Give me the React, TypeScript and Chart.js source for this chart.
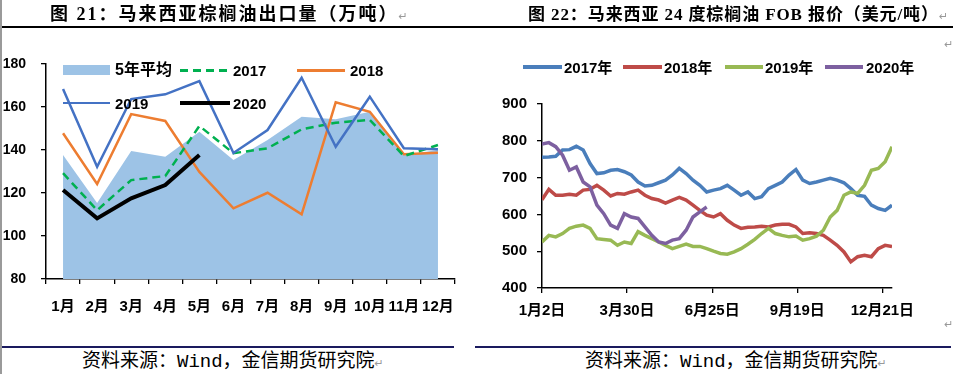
import React, { useEffect, useRef } from "react";
import { Chart, registerables } from "chart.js";
Chart.register(...registerables);

// ---------- Chart 21: Malaysia palm oil exports (10k tonnes) ----------
const months = ["1月", "2月", "3月", "4月", "5月", "6月", "7月", "8月", "9月", "10月", "11月", "12月"];
const avg5 = [137.7, 115.3, 139.5, 136.9, 148.5, 135.3, 144.7, 155.5, 154.3, 157.8, 137.7, 140];
const exp2017 = [129.2, 112, 126, 127.9, 151.2, 138.5, 140.8, 149.6, 152.7, 154, 137.2, 142.3];
const exp2018 = [147.8, 124.2, 156.7, 153.5, 129.8, 112.9, 120.1, 110.1, 162.2, 157.8, 138, 138.7];
const exp2019 = [168.4, 132.2, 163.7, 165.9, 172, 138.6, 149.3, 173.6, 141.5, 164.8, 140.8, 140.3];
const exp2020 = [121.4, 108.2, 117.5, 123.7, 137.7];
const expMin = 80;
const expMax = 180;
const expStep = 20;

// ---------- Chart 22: Malaysia 24-degree palm oil FOB (USD/t), weekly samples ----------
const weekStep = 5; // trading days between samples
const fobTickIdx = [0, 62, 124, 186, 248];
const fobTickLabels = ["1月2日", "3月30日", "6月25日", "9月19日", "12月21日"];
const fob2017 = [755, 756, 758, 775, 776, 785, 775, 738, 711, 713, 720, 722, 716, 707, 688, 677, 679, 686, 693, 707, 725, 711, 693, 679, 661, 666, 670, 679, 666, 652, 661, 643, 648, 670, 679, 688, 707, 722, 693, 684, 688, 693, 698, 693, 686, 670, 652, 649, 625, 616, 611, 625];
const fob2018 = [640, 668, 652, 652, 655, 652, 666, 668, 679, 666, 650, 657, 655, 661, 666, 652, 643, 639, 631, 639, 646, 639, 625, 611, 598, 593, 602, 584, 571, 562, 565, 566, 568, 566, 571, 573, 573, 566, 548, 550, 548, 543, 530, 516, 498, 471, 485, 489, 485, 507, 516, 513];
const fob2019 = [525, 543, 539, 548, 562, 568, 571, 562, 534, 532, 530, 516, 525, 521, 553, 543, 534, 525, 516, 507, 513, 519, 513, 513, 507, 500, 494, 492, 498, 507, 519, 532, 548, 562, 548, 543, 539, 541, 530, 534, 541, 557, 593, 611, 652, 661, 657, 679, 720, 725, 743, 784];
const fob2020 = [791, 795, 784, 761, 720, 729, 688, 675, 625, 602, 571, 562, 602, 593, 589, 566, 543, 525, 521, 530, 534, 557, 593, 607, 620];
const fobMin = 400;
const fobMax = 900;
const fobStep = 100;
const fobXMax = 255;

const tickFont = "'Liberation Sans', 'Noto Sans CJK SC', sans-serif";

const toXY = (arr: number[]) => arr.map((v, i) => ({ x: i * weekStep, y: v }));

function ExportChart() {
  const ref = useRef<HTMLCanvasElement | null>(null);
  useEffect(() => {
    if (!ref.current) return;
    const chart = new Chart(ref.current, {
      type: "line",
      data: {
        labels: months,
        datasets: [
          { label: "5年平均", data: avg5, fill: "start", backgroundColor: "#9DC3E6", borderWidth: 0, borderColor: "rgba(0,0,0,0)", pointRadius: 0, order: 10 },
          { label: "2017", data: exp2017, borderColor: "#00B050", borderDash: [8, 5], borderWidth: 2.5, pointRadius: 0, fill: false, order: 3 },
          { label: "2018", data: exp2018, borderColor: "#ED7D31", borderWidth: 2.5, pointRadius: 0, fill: false, order: 4 },
          { label: "2019", data: exp2019, borderColor: "#4472C4", borderWidth: 2.5, pointRadius: 0, fill: false, order: 2 },
          { label: "2020", data: exp2020, borderColor: "#000000", borderWidth: 4, pointRadius: 0, fill: false, order: 1 },
        ],
      } as any,
      options: {
        animation: false,
        responsive: false,
        maintainAspectRatio: false,
        layout: { padding: { top: 64, right: 15, left: 0, bottom: 0 } },
        plugins: { legend: { display: false }, tooltip: { enabled: false } },
        scales: {
          x: {
            offset: true,
            grid: { offset: true, drawOnChartArea: false, color: "#000", tickLength: 5, lineWidth: 1.3 },
            border: { color: "#000", width: 1.5 },
            ticks: { color: "#000", font: { size: 15, weight: "bold", family: tickFont }, padding: 14, maxRotation: 0, autoSkip: false },
            afterFit: (s: any) => { s.height = 51; },
          },
          y: {
            min: expMin,
            max: expMax,
            ticks: { stepSize: expStep, color: "#000", font: { size: 14, weight: "bold", family: tickFont }, padding: 15 },
            grid: { drawOnChartArea: false, color: "#000", tickLength: 5, lineWidth: 1.3 },
            border: { color: "#000", width: 1.5 },
            afterFit: (s: any) => { s.width = 46; },
          },
        },
      } as any,
    });
    return () => chart.destroy();
  }, []);
  return <canvas ref={ref} width={470} height={330} style={{ position: "absolute", left: 0, top: 0, width: 470, height: 330 }} />;
}

function FobChart() {
  const ref = useRef<HTMLCanvasElement | null>(null);
  useEffect(() => {
    if (!ref.current) return;
    const chart = new Chart(ref.current, {
      type: "line",
      data: {
        datasets: [
          { label: "2017年", data: toXY(fob2017), borderColor: "#4A7EBB", borderWidth: 3.5, pointRadius: 0, fill: false, order: 4 },
          { label: "2018年", data: toXY(fob2018), borderColor: "#BE4B48", borderWidth: 3.5, pointRadius: 0, fill: false, order: 3 },
          { label: "2019年", data: toXY(fob2019), borderColor: "#98B954", borderWidth: 3.5, pointRadius: 0, fill: false, order: 2 },
          { label: "2020年", data: toXY(fob2020), borderColor: "#7D60A0", borderWidth: 3.5, pointRadius: 0, fill: false, order: 1 },
        ],
      } as any,
      options: {
        animation: false,
        responsive: false,
        maintainAspectRatio: false,
        layout: { padding: { top: 104, right: 65, left: 0, bottom: 0 } },
        plugins: { legend: { display: false }, tooltip: { enabled: false } },
        scales: {
          x: {
            type: "linear",
            min: 0,
            max: fobXMax,
            afterBuildTicks: (s: any) => { s.ticks = fobTickIdx.map((v) => ({ value: v })); },
            ticks: {
              callback: (_v: any, i: number) => fobTickLabels[i] ?? "",
              autoSkip: false,
              maxRotation: 0,
              padding: 9,
              color: "#000",
              font: { size: 15, weight: "bold", family: tickFont },
            },
            grid: { drawOnChartArea: false, color: "#000", tickLength: 5, lineWidth: 1.3 },
            border: { color: "#000", width: 1.5 },
            afterFit: (s: any) => { s.height = 42; },
          },
          y: {
            min: fobMin,
            max: fobMax,
            ticks: { stepSize: fobStep, color: "#000", font: { size: 15, weight: "bold", family: tickFont }, padding: 10 },
            grid: { drawOnChartArea: false, color: "#000", tickLength: 5, lineWidth: 1.3 },
            border: { color: "#000", width: 1.5 },
            afterFit: (s: any) => { s.width = 62; },
          },
        },
      } as any,
    });
    return () => chart.destroy();
  }, []);
  return <canvas ref={ref} width={477} height={330} style={{ position: "absolute", left: 480, top: 0, width: 477, height: 330 }} />;
}

const abs = (o: React.CSSProperties): React.CSSProperties => ({ position: "absolute", ...o });

function Txt({ left, cy, size, children, weight = "bold", family = tickFont, color = "#000", spacing = 0 }: any) {
  return (
    <div style={abs({ left, top: cy - size * 0.5, fontSize: size, lineHeight: `${size}px`, fontWeight: weight, fontFamily: family, color, whiteSpace: "nowrap", letterSpacing: spacing })}>
      {children}
    </div>
  );
}

const ret = <span style={{ color: "#999", fontSize: 11, fontWeight: "normal", fontFamily: "'DejaVu Sans', sans-serif" }}>↵</span>;
const titleFont = "'Liberation Serif', 'Noto Sans CJK SC', serif";
const srcFont = "'Liberation Mono', 'Noto Sans CJK SC', monospace";

export default function App() {
  return (
    <div style={abs({ left: 0, top: 0, width: 957, height: 374, background: "#fff", overflow: "hidden" })}>
      <div style={abs({ left: 0, top: 0, width: 2, height: 374, background: "#9a9a9a" })} />

      <ExportChart />
      <FobChart />

      {/* titles */}
      <Txt left={50} cy={14} size={18} family={titleFont} spacing={2}>图 21：马来西亚棕榈油出口量（万吨）{ret}</Txt>
      <Txt left={528} cy={14} size={17} family={titleFont} spacing={0.9}>图 22：马来西亚 24 度棕榈油 FOB 报价（美元/吨）{ret}</Txt>
      <div style={abs({ left: 2, top: 26, width: 951, height: 1.5, background: "#000" })} />

      {/* left legend */}
      <div style={abs({ left: 63, top: 65, width: 47, height: 10, background: "#9DC3E6" })} />
      <Txt left={115} cy={70} size={16}>5年平均</Txt>
      <div style={abs({ left: 180, top: 68.5, width: 50, height: 3, background: "repeating-linear-gradient(to right, #00B050 0 8px, transparent 8px 13px)" })} />
      <Txt left={233} cy={70} size={15}>2017</Txt>
      <div style={abs({ left: 297, top: 68.5, width: 48, height: 3, background: "#ED7D31" })} />
      <Txt left={350} cy={70} size={15}>2018</Txt>
      <div style={abs({ left: 63, top: 101.5, width: 47, height: 2.5, background: "#4472C4" })} />
      <Txt left={115} cy={103} size={15}>2019</Txt>
      <div style={abs({ left: 180, top: 100.5, width: 50, height: 4.5, background: "#000" })} />
      <Txt left={233} cy={103} size={15}>2020</Txt>

      {/* right legend */}
      <div style={abs({ left: 523, top: 65, width: 39, height: 4, background: "#4A7EBB" })} />
      <Txt left={564} cy={67} size={15}>2017年</Txt>
      <div style={abs({ left: 623, top: 65, width: 39, height: 4, background: "#BE4B48" })} />
      <Txt left={664} cy={67} size={15}>2018年</Txt>
      <div style={abs({ left: 725, top: 65, width: 38, height: 4, background: "#98B954" })} />
      <Txt left={765} cy={67} size={15}>2019年</Txt>
      <div style={abs({ left: 825, top: 65, width: 38, height: 4, background: "#7D60A0" })} />
      <Txt left={866} cy={67} size={15}>2020年</Txt>

      {/* bottom */}
      <div style={abs({ left: 2, top: 346, width: 452, height: 1.5, background: "#1a1a5e" })} />
      <div style={abs({ left: 475, top: 346, width: 476, height: 1.5, background: "#1a1a5e" })} />
      <Txt left={82} cy={362} size={19} weight="normal" family={srcFont}>资料来源：Wind，金信期货研究院{ret}</Txt>
      <Txt left={585} cy={362} size={19} weight="normal" family={srcFont}>资料来源：Wind，金信期货研究院{ret}</Txt>
      <div style={abs({ left: 944, top: 38, color: "#999", fontSize: 11 })}>↵</div>
      <div style={abs({ left: 944, top: 318, color: "#999", fontSize: 11 })}>↵</div>
    </div>
  );
}
